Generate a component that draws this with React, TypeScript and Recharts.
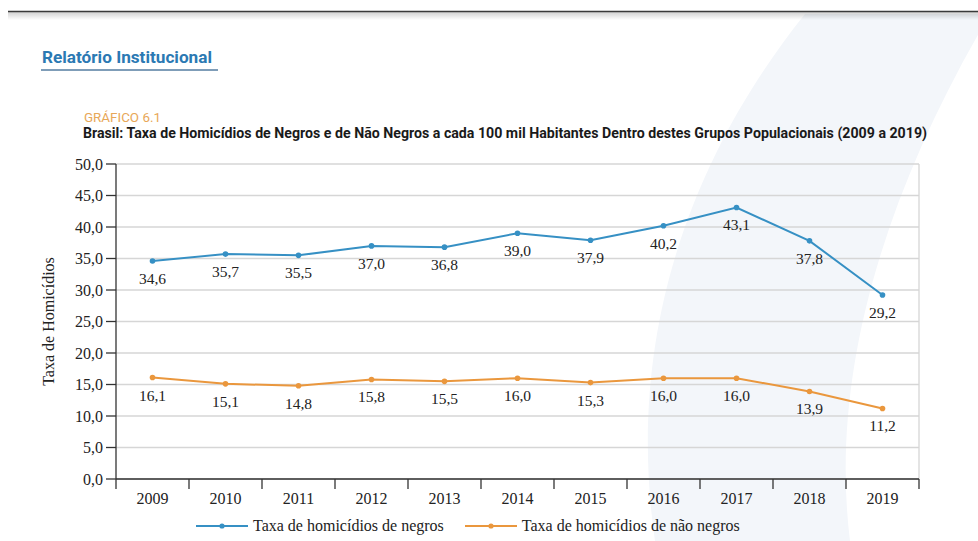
import React from 'react';
import { LineChart, Line, XAxis, YAxis, CartesianGrid, LabelList, Legend } from 'recharts';

const years = ['2009', '2010', '2011', '2012', '2013', '2014', '2015', '2016', '2017', '2018', '2019'];
const negros = [34.6, 35.7, 35.5, 37.0, 36.8, 39.0, 37.9, 40.2, 43.1, 37.8, 29.2];
const naoNegros = [16.1, 15.1, 14.8, 15.8, 15.5, 16.0, 15.3, 16.0, 16.0, 13.9, 11.2];
const yTicks = [0, 5, 10, 15, 20, 25, 30, 35, 40, 45, 50];
const seriesNames = ['Taxa de homicídios de negros', 'Taxa de homicídios de não negros'];
const seriesColors = ['#3690c4', '#ea973d'];

const data = years.map((y, i) => ({ year: y, negros: negros[i], naoNegros: naoNegros[i] }));

const fmt = (v: any) => Number(v).toFixed(1).replace('.', ',');
const SERIF = '"Liberation Serif", "Times New Roman", serif';
const SANS = 'Roboto, "Open Sans", "Noto Sans", sans-serif';
const AXIS = '#333';

const YearTick = (props: any) => {
  const { x, y, payload, index, visibleTicksCount } = props;
  const half = payload && payload.offset ? payload.offset : 0;
  const last = index === visibleTicksCount - 1;
  return (
    <g>
      <line x1={x - half} x2={x - half} y1={y} y2={y + 10} stroke={AXIS} strokeWidth={1.3} />
      {last && <line x1={x + half} x2={x + half} y1={y} y2={y + 10} stroke={AXIS} strokeWidth={1.3} />}
      <text x={x} y={y + 25} textAnchor="middle" fontFamily={SERIF} fontSize={16} fill="#222">{payload.value}</text>
    </g>
  );
};

const renderLegend = (props: any) => {
  const { payload } = props;
  return (
    <div style={{ display: 'flex', alignItems: 'center', height: 30, paddingLeft: 196, fontFamily: SERIF, fontSize: 16, color: '#222' }}>
      {payload.map((p: any, i: number) => (
        <div key={i} style={{ display: 'flex', alignItems: 'center', marginRight: 21 }}>
          <svg width={52} height={10} style={{ display: 'block' }}>
            <line x1={0} y1={5} x2={52} y2={5} stroke={p.color} strokeWidth={2} />
            <circle cx={26} cy={5} r={2.6} fill={p.color} />
          </svg>
          <span style={{ marginLeft: 5 }}>{p.value}</span>
        </div>
      ))}
    </div>
  );
};

export default function App() {
  return (
    <div style={{ position: 'absolute', left: 0, top: 0, width: 978, height: 541, background: '#fff', overflow: 'hidden' }}>
      <svg width={978} height={541} style={{ position: 'absolute', left: 0, top: 0 }}>
        <defs>
          <linearGradient id="shadow" x1="0" y1="0" x2="0" y2="1">
            <stop offset="0" stopColor="#000" stopOpacity={0.18} />
            <stop offset="1" stopColor="#000" stopOpacity={0} />
          </linearGradient>
        </defs>
        <path d="M 805 14 C 720 120, 620 300, 655 541 L 850 541 C 830 380, 880 200, 990 14 Z" fill="#f3f6fa" />
        <rect x={8} y={12} width={970} height={8} fill="url(#shadow)" />
        <line x1={8} y1={11.5} x2={978} y2={11.5} stroke="#3a3a3a" strokeWidth={1.6} />
        <text x={42} y={63} fontFamily={SANS} fontWeight={700} fontSize={16} fill="#2b79b3" textLength={170} lengthAdjust="spacingAndGlyphs">Relatório Institucional</text>
        <line x1={41} y1={70} x2={218} y2={70} stroke="#7f9db8" strokeWidth={2} />
        <text x={84} y={122} fontFamily={SANS} fontSize={13} fill="#e8a758" textLength={77} lengthAdjust="spacingAndGlyphs">GRÁFICO 6.1</text>
        <text x={83} y={138} fontFamily={SANS} fontWeight={700} fontSize={14} fill="#1a1a1a" textLength={844} lengthAdjust="spacingAndGlyphs">Brasil: Taxa de Homicídios de Negros e de Não Negros a cada 100 mil Habitantes Dentro destes Grupos Populacionais (2009 a 2019)</text>
      </svg>
      <div style={{ position: 'absolute', left: 0, top: 0 }}>
        <LineChart width={978} height={541} data={data} margin={{ top: 164, right: 59, left: 0, bottom: 0 }}>
          <CartesianGrid
            horizontal
            vertical
            stroke="#d6d6d6"
            strokeWidth={1.3}
            verticalCoordinatesGenerator={({ offset }: any) => [offset.left + offset.width]}
          />
          <XAxis
            dataKey="year"
            scale="band"
            interval={0}
            tickLine={false}
            tickSize={0}
            tickMargin={0}
            height={32}
            axisLine={{ stroke: AXIS, strokeWidth: 1.3 }}
            tick={<YearTick />}
          />
          <YAxis
            domain={[0, 50]}
            ticks={yTicks}
            width={116}
            tickFormatter={fmt}
            tickSize={10}
            tickMargin={3}
            interval={0}
            axisLine={{ stroke: AXIS, strokeWidth: 1.3 }}
            tickLine={{ stroke: AXIS, strokeWidth: 1.3 }}
            tick={{ fontFamily: SERIF, fontSize: 16, fill: '#222' }}
            label={{ value: 'Taxa de Homicídios', angle: -90, position: 'center', dx: -10, style: { fontFamily: SERIF, fontSize: 16, fill: '#222' } }}
          />
          <Legend verticalAlign="bottom" height={30} content={renderLegend} />
          <Line
            type="linear"
            dataKey="negros"
            name={seriesNames[0]}
            stroke={seriesColors[0]}
            strokeWidth={2}
            dot={{ r: 2.8, fill: seriesColors[0], stroke: 'none' }}
            isAnimationActive={false}
          >
            <LabelList dataKey="negros" position="bottom" offset={12} formatter={fmt} style={{ fontFamily: SERIF, fontSize: 15.5, fill: '#222' }} />
          </Line>
          <Line
            type="linear"
            dataKey="naoNegros"
            name={seriesNames[1]}
            stroke={seriesColors[1]}
            strokeWidth={2}
            dot={{ r: 2.8, fill: seriesColors[1], stroke: 'none' }}
            isAnimationActive={false}
          >
            <LabelList dataKey="naoNegros" position="bottom" offset={12} formatter={fmt} style={{ fontFamily: SERIF, fontSize: 15.5, fill: '#222' }} />
          </Line>
        </LineChart>
      </div>
    </div>
  );
}
